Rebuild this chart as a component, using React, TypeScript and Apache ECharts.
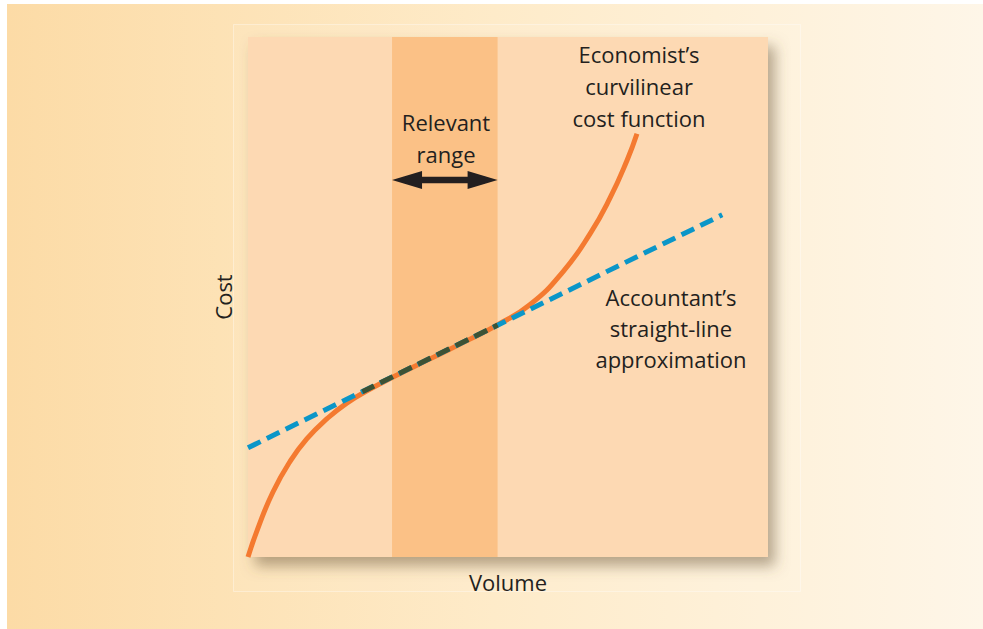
import React, { useEffect, useRef } from "react";
import * as echarts from "echarts";

// Economist's curvilinear cost function (volume, cost)
const curveX = [0, 1.9, 4.8, 8.1, 11.3, 15.2, 19.0, 23.5, 27.7, 35.0, 42.7, 47.9, 54.2, 60.6, 65.8, 69.6, 72.9, 74.8];
const curveY = [0, 5.5, 12.5, 18.4, 22.7, 26.6, 29.6, 32.3, 34.5, 38.1, 41.9, 44.6, 48.5, 54.9, 62.2, 69.0, 76.3, 81.4];

// Accountant's straight-line approximation
const lineX = [0, 91.2];
const lineY = [21, 65.8];

// part of the straight line lying on top of the curve
const overlapX = [22, 48];
const overlapY = [31.8, 44.6];

// relevant range (volume)
const rangeX = [27.7, 48.0];
const arrowLevel = 72.5;

const axisMin = 0;
const axisMax = 100;

const FONT = "'Open Sans', Lato, sans-serif";
const TEXT = "#231f20";
const FS = 22;

export default function App() {
  const ref = useRef<HTMLDivElement>(null);
  useEffect(() => {
    document.body.style.margin = "0";
    const chart = echarts.init(ref.current!, null, { renderer: "svg" });
    const hiddenAxis = {
      axisLine: { show: false },
      axisTick: { show: false },
      axisLabel: { show: false },
      splitLine: { show: false },
    };
    const dash = [14, 7];
    const period = dash[0] + dash[1];
    chart.setOption({
      animation: false,
      grid: {
        left: 248,
        top: 37,
        width: 520,
        height: 520,
        show: true,
        borderWidth: 0,
        backgroundColor: "#fdd9b3",
        shadowBlur: 14,
        shadowOffsetX: 7,
        shadowOffsetY: 9,
        shadowColor: "rgba(110,90,60,0.5)",
      },
      xAxis: {
        type: "value",
        min: axisMin,
        max: axisMax,
        name: "Volume",
        nameLocation: "middle",
        nameGap: 14,
        nameTextStyle: { fontFamily: FONT, fontSize: FS, color: TEXT },
        ...hiddenAxis,
      },
      yAxis: {
        type: "value",
        min: axisMin,
        max: axisMax,
        name: "Cost",
        nameLocation: "middle",
        nameGap: 14,
        nameTextStyle: { fontFamily: FONT, fontSize: FS, color: TEXT },
        ...hiddenAxis,
      },
      series: [
        {
          type: "line",
          name: "Economist's curvilinear cost function",
          data: curveX.map((x, i) => [x, curveY[i]]),
          smooth: 0.5,
          showSymbol: false,
          lineStyle: { color: "#f47a30", width: 5 },
          markArea: {
            silent: true,
            itemStyle: { color: "#fbc186" },
            data: [[{ xAxis: rangeX[0] }, { xAxis: rangeX[1] }]],
          },
          z: 2,
        },
        {
          type: "line",
          name: "Accountant's straight-line approximation",
          data: lineX.map((x, i) => [x, lineY[i]]),
          showSymbol: false,
          lineStyle: { color: "#0b96c8", width: 5, type: dash, cap: "butt" },
          z: 3,
        },
        {
          type: "line",
          name: "overlap",
          data: overlapX.map((x, i) => [x, overlapY[i]]),
          showSymbol: false,
          lineStyle: { color: "#3d5234", width: 5, type: dash, cap: "butt", dashOffset: 0 },
          z: 4,
        },
      ],
    });

    const p0 = chart.convertToPixel({ gridIndex: 0 }, [lineX[0], lineY[0]]) as number[];
    const p1 = chart.convertToPixel({ gridIndex: 0 }, [overlapX[0], overlapY[0]]) as number[];
    const dist = Math.hypot(p1[0] - p0[0], p1[1] - p0[1]);
    const offset = dist % period;

    const a = chart.convertToPixel({ gridIndex: 0 }, [rangeX[0], arrowLevel]) as number[];
    const b = chart.convertToPixel({ gridIndex: 0 }, [rangeX[1], arrowLevel]) as number[];
    const y = a[1];
    const hl = 30;
    const hh = 9;
    const sh = 3.2;
    const xa = a[0];
    const xb = b[0];

    chart.setOption({
      series: [{}, {}, { lineStyle: { dashOffset: offset } }],
      graphic: [
        {
          type: "rect",
          id: "bg",
          z: -100,
          silent: true,
          shape: { x: 7, y: 4, width: 976, height: 625 },
          style: {
            fill: new echarts.graphic.LinearGradient(0, 0, 1, 0, [
              { offset: 0, color: "#fcdba6" },
              { offset: 0.5, color: "#feebc9" },
              { offset: 1, color: "#fef6e8" },
            ]),
          },
        },
        {
          type: "rect",
          id: "panel",
          z: -90,
          silent: true,
          shape: { x: 233.5, y: 24.5, width: 567, height: 567 },
          style: { fill: "rgba(255,255,255,0.08)", stroke: "rgba(255,255,255,0.35)", lineWidth: 1 },
        },
        {
          type: "polygon",
          id: "arrow",
          z: 100,
          silent: true,
          shape: {
            points: [
              [xa, y],
              [xa + hl, y - hh],
              [xa + hl, y - sh],
              [xb - hl, y - sh],
              [xb - hl, y - hh],
              [xb, y],
              [xb - hl, y + hh],
              [xb - hl, y + sh],
              [xa + hl, y + sh],
              [xa + hl, y + hh],
            ],
          },
          style: { fill: "#231f20" },
        },
        {
          type: "text",
          id: "t1",
          z: 100,
          x: 446,
          y: 138,
          style: {
            text: "Relevant\nrange",
            fontFamily: FONT,
            fontSize: FS,
            lineHeight: 32,
            fill: TEXT,
            align: "center",
            verticalAlign: "middle",
          },
        },
        {
          type: "text",
          id: "t2",
          z: 100,
          x: 639,
          y: 86,
          style: {
            text: "Economist\u2019s\ncurvilinear\ncost function",
            fontFamily: FONT,
            fontSize: FS,
            lineHeight: 32,
            fill: TEXT,
            align: "center",
            verticalAlign: "middle",
          },
        },
        {
          type: "text",
          id: "t3",
          z: 100,
          x: 671,
          y: 328,
          style: {
            text: "Accountant\u2019s\nstraight-line\napproximation",
            fontFamily: FONT,
            fontSize: FS,
            lineHeight: 31,
            fill: TEXT,
            align: "center",
            verticalAlign: "middle",
          },
        },
      ],
    });
    return () => chart.dispose();
  }, []);
  return <div ref={ref} style={{ width: 983, height: 629 }} />;
}
